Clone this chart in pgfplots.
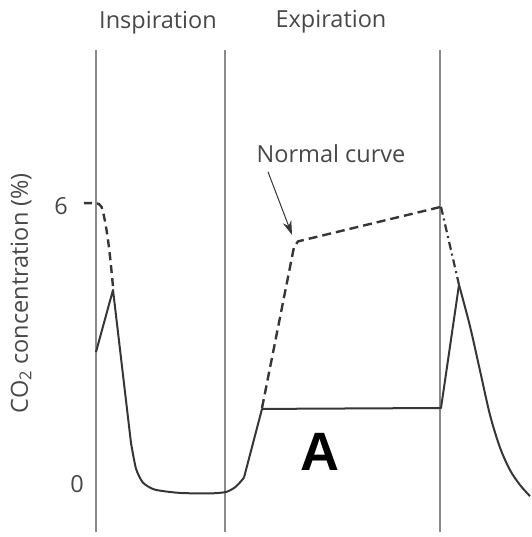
\documentclass[border=0pt]{standalone}
\usepackage{pgfplots}
\pgfplotsset{compat=1.18}
\usepackage{fontspec}
\setmainfont{Open Sans}
\newfontfamily\boldA{Liberation Sans}
\usetikzlibrary{arrows.meta}
\definecolor{curve}{HTML}{363636}
\definecolor{vline}{HTML}{8A8A8A}
\definecolor{txt}{HTML}{484848}
\begin{document}
\begin{tikzpicture}
\begin{axis}[
  scale only axis, width=531pt, height=537pt,
  xmin=0, xmax=531, ymin=-1.114, ymax=10.392,
  axis lines=none, clip=false,
]
\path (rel axis cs:0,0) rectangle (rel axis cs:1,1);
% phase boundaries
\addplot[vline, line width=1.1pt] coordinates {(96,-1.01) (96,9.32)};
\addplot[vline, line width=1.1pt] coordinates {(225,-1.01) (225,9.32)};
\addplot[vline, line width=1.1pt] coordinates {(440,-1.01) (440,9.32)};
% solid curve (case A)
\addplot[curve, line width=2pt, line join=round] coordinates {(96,2.85) (113,4.18) (131,0.9)};
\addplot[curve, line width=2pt, smooth, tension=0.4] coordinates {(131,0.9) (136,0.35) (143,0.05) (155,-0.10) (180,-0.17) (210,-0.18) (226,-0.15) (235,-0.05) (241,0.08) (244,0.16)};
\addplot[curve, line width=2pt, line join=round] coordinates {(244,0.16) (262,1.63) (441,1.65) (459,4.29)};
\addplot[curve, line width=2pt, smooth, tension=0.5] coordinates {(459,4.29) (470,3.4) (480,2.45) (490,1.5) (500,0.8) (510,0.32) (520,0.0) (530,-0.24)};
% normal curve (dashed)
\addplot[curve, line width=2.4pt, smooth, tension=0.5, dash pattern=on 8pt off 5pt] coordinates {(84,6.04) (99,6.02) (103,5.85) (107,5.4) (110,4.9) (113,4.25)};
\addplot[curve, line width=2.4pt, line join=round, dash pattern=on 9pt off 5pt] coordinates {(262,1.65) (294,5.1) (298,5.22) (441,5.96)};
\addplot[curve, line width=2.2pt, dash pattern=on 8pt off 4pt on 2pt off 4pt] coordinates {(441,5.96) (459,4.29)};
% annotations
\draw[curve, line width=1pt, -{Stealth[length=14pt,width=9pt]}] (axis cs:268,6.71) -- (axis cs:292,5.36);
\node[txt, font=\fontsize{23.5}{28}\selectfont] at (axis cs:331,7.10) {Normal curve};
\node[txt, font=\fontsize{23.5}{28}\selectfont] at (axis cs:158,9.90) {Inspiration};
\node[txt, font=\fontsize{23.5}{28}\selectfont] at (axis cs:331,9.92) {Expiration};
\node[txt, font=\fontsize{23.5}{28}\selectfont] at (axis cs:61,5.98) {6};
\node[txt, font=\fontsize{23.5}{28}\selectfont] at (axis cs:77,0.02) {0};
\node[txt, rotate=90, font=\fontsize{23.5}{28}\selectfont] at (axis cs:21,4.11) {CO\textsubscript{2} concentration (\%)};
\node[black, font=\boldA\bfseries\fontsize{54}{58}\selectfont] at (axis cs:320,0.71) {A};
\end{axis}
\end{tikzpicture}
\end{document}
